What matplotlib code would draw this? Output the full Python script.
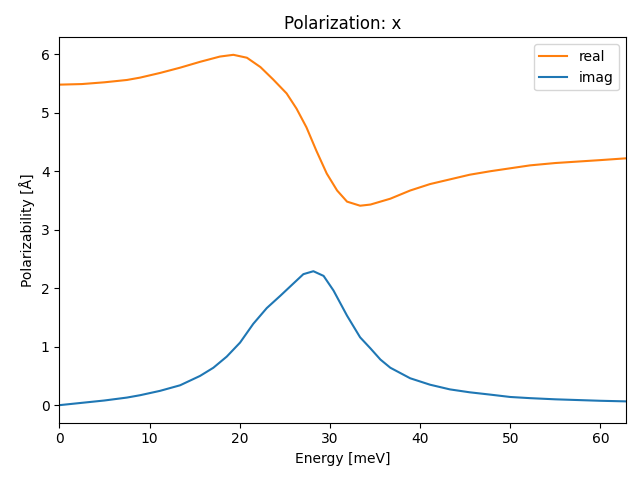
import matplotlib
matplotlib.use("Agg")
import matplotlib.pyplot as plt

energy_real = [0, 2.5, 5, 7.5, 8.95, 11.17, 13.39, 15.6, 17.8, 19.3, 20.8, 22.3, 23.7, 25.2, 26.3, 27.4, 28.5, 29.65, 30.8, 31.9, 33.35, 34.5, 35.6, 36.7, 38.9, 41.1, 43.3, 45.5, 47.8, 50.0, 52.2, 55, 60, 62.8]
real = [5.48, 5.49, 5.52, 5.56, 5.60, 5.68, 5.77, 5.87, 5.96, 5.99, 5.94, 5.78, 5.57, 5.33, 5.07, 4.75, 4.35, 3.96, 3.67, 3.48, 3.41, 3.43, 3.48, 3.53, 3.67, 3.78, 3.86, 3.94, 4.0, 4.05, 4.10, 4.14, 4.19, 4.22]

energy_imag = [0, 2.5, 5, 7.5, 8.95, 11.17, 13.39, 15.6, 17.08, 18.56, 20.04, 21.5, 23.0, 24.5, 25.95, 27.06, 28.17, 29.3, 30.4, 31.9, 33.35, 34.5, 35.6, 36.7, 38.9, 41.1, 43.3, 45.5, 47.8, 50.0, 52.2, 55, 60, 62.8]
imag = [0.0, 0.04, 0.08, 0.13, 0.17, 0.245, 0.34, 0.50, 0.64, 0.83, 1.07, 1.39, 1.66, 1.87, 2.08, 2.24, 2.29, 2.21, 1.96, 1.53, 1.16, 0.97, 0.78, 0.64, 0.46, 0.35, 0.27, 0.22, 0.18, 0.14, 0.12, 0.10, 0.075, 0.065]

fig, ax = plt.subplots(figsize=(6.4, 4.8), dpi=100)
ax.plot(energy_real, real, color="#ff7f0e", label="real")
ax.plot(energy_imag, imag, color="#1f77b4", label="imag")
ax.set_xlim(0, 62.8)
ax.set_title("Polarization: x")
ax.set_xlabel("Energy [meV]")
ax.set_ylabel("Polarizability [Å]")
ax.legend(loc="upper right")
fig.subplots_adjust(left=0.0927, right=0.9777, top=0.9223, bottom=0.1194)
fig.savefig("out.png", dpi=100)
